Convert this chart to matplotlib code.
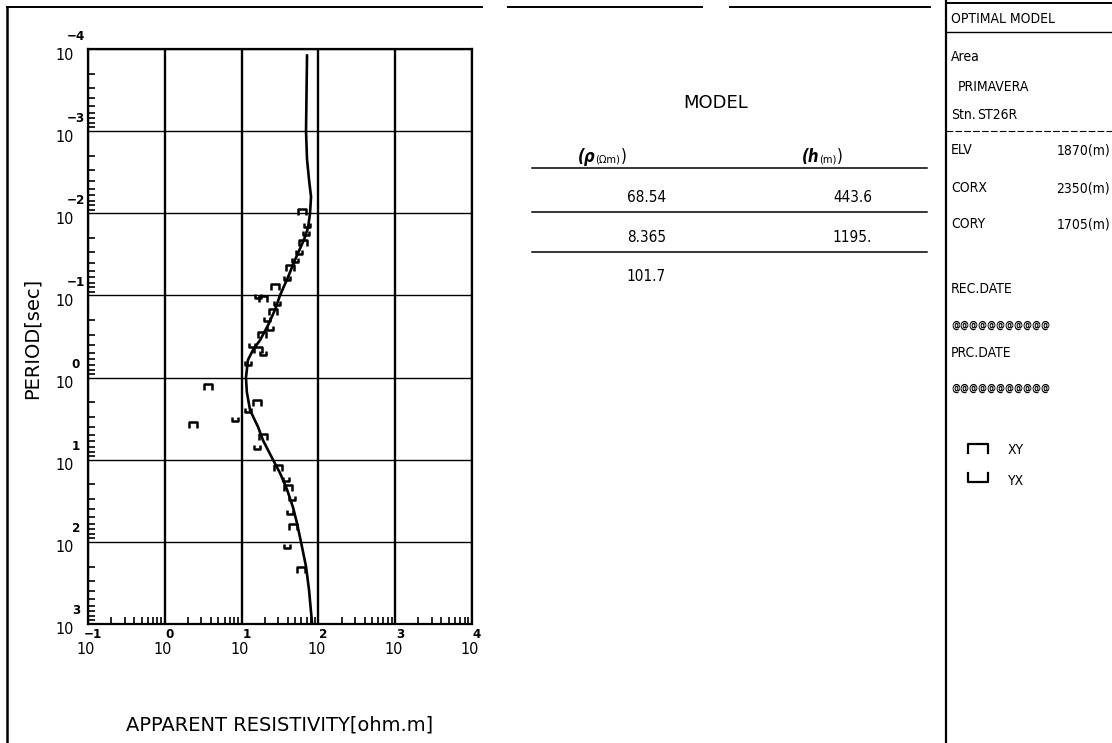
import numpy as np
import matplotlib
matplotlib.use("Agg")
import matplotlib.pyplot as plt
from matplotlib.lines import Line2D
from matplotlib.path import Path
from matplotlib.ticker import LogLocator, NullFormatter, FixedLocator
from matplotlib.offsetbox import TextArea, HPacker, AnnotationBbox

# ---------------- data ----------------
model_period = [1.2e-4, 1.0e-3, 2.2e-3, 3.9e-3, 6.3e-3, 1.0e-2, 0.015, 0.021, 0.037, 0.060,
                0.10, 0.15, 0.23, 0.35, 0.46, 0.61, 1.0, 1.5, 2.5, 4.0,
                5.8, 10.0, 14.5, 23.0, 38.0, 59.0, 100.0, 200.0, 385.0, 970.0]
model_rho = [71.1, 69.0, 71.1, 75.5, 80.2, 77.8, 73.3, 64.9, 49.5, 40.2,
             31.6, 27.2, 22.1, 17.4, 14.1, 12.1, 11.4, 11.7, 12.9, 16.4,
             19.0, 25.6, 31.6, 39.0, 46.7, 52.6, 59.3, 69.0, 75.5, 82.6]

xy_period = [0.0096, 0.023, 0.046, 0.079, 0.111, 0.159, 0.303, 0.462, 1.30, 2.04, 3.79, 5.3, 12.6, 22.1, 65.9, 220.0]
xy_rho = [61.0, 63.0, 42.7, 27.2, 19.0, 25.6, 18.5, 16.4, 3.66, 15.9, 2.33, 19.0, 29.8, 40.2, 46.7, 59.3]

yx_period = [0.0139, 0.0174, 0.0296, 0.037, 0.0614, 0.1016, 0.124, 0.194, 0.249, 0.402, 0.502, 0.665, 2.48, 3.19, 7.0, 17.2, 29.3, 43.4, 112.0]
yx_rho = [71.0, 69.0, 56.0, 49.5, 39.0, 16.4, 28.9, 21.4, 23.5, 13.6, 19.0, 12.1, 12.1, 8.2, 15.9, 37.8, 45.3, 42.7, 39.0]

x_exponents = ["\u22121", "0", "1", "2", "3", "4"]
y_exponents = ["\u22124", "\u22123", "\u22122", "\u22121", "0", "1", "2", "3"]

layer_rho = ["68.54", "8.365", "101.7"]
layer_h = ["443.6", "1195."]

info_rows = [("ELV", "1870(m)"), ("CORX", "2350(m)"), ("CORY", "1705(m)")]

# ---------------- figure ----------------
W, H = 1112, 743
fig = plt.figure(figsize=(W / 100, H / 100), dpi=100)
plt.rcParams['font.family'] = ['DejaVu Sans']


def fx(x):
    return x / W


def fy(y):
    return 1 - y / H


ax = fig.add_axes([fx(88), fy(624), (472 - 88) / W, (624 - 49) / H])
ax.set_xscale('log')
ax.set_yscale('log')
ax.set_xlim(0.1, 1e4)
ax.set_ylim(1e3, 1e-4)

xt = [10.0 ** k for k in range(-1, 5)]
yt = [10.0 ** k for k in range(-4, 4)]
ax.xaxis.set_major_locator(FixedLocator(xt))
ax.yaxis.set_major_locator(FixedLocator(yt))
ax.xaxis.set_minor_locator(LogLocator(base=10, subs=np.arange(2, 10), numticks=100))
ax.yaxis.set_minor_locator(LogLocator(base=10, subs=np.arange(2, 10), numticks=100))
ax.xaxis.set_minor_formatter(NullFormatter())
ax.yaxis.set_minor_formatter(NullFormatter())
ax.set_xticklabels([])
ax.set_yticklabels([])
ax.tick_params(which='major', length=0)
ax.tick_params(which='minor', direction='in', length=5, width=1.2, color='black',
               top=False, right=False)

for v in xt:
    ax.axvline(v, color='black', lw=1.7, zorder=1)
for v in yt:
    ax.axhline(v, color='black', lw=1.0, zorder=1)
for s in ax.spines.values():
    s.set_linewidth(1.6)

ax.plot(model_rho, model_period, color='black', lw=1.9, zorder=3)

cap_xy = Path([(-1, -0.7), (-1, 0.7), (1, 0.7), (1, -0.7)],
              [Path.MOVETO, Path.LINETO, Path.LINETO, Path.LINETO])
cap_yx = Path([(-1, 0.7), (-1, -0.7), (1, -0.7), (1, 0.7)],
              [Path.MOVETO, Path.LINETO, Path.LINETO, Path.LINETO])
ax.plot(xy_rho, xy_period, ls='none', marker=cap_xy, ms=5.5, mew=1.8,
        mfc='none', mec='black', zorder=4)
ax.plot(yx_rho, yx_period, ls='none', marker=cap_yx, ms=5, mew=1.8,
        mfc='none', mec='black', zorder=4)

tfont = dict(family='DejaVu Sans', fontstretch='condensed', color='black')
for v, e in zip(xt, x_exponents):
    ax.annotate("10", xy=(v, 0), xycoords=('data', 'axes fraction'),
                xytext=(-2, -26), textcoords='offset pixels',
                ha='center', va='center', fontsize=11.5, **tfont)
    ax.annotate(e, xy=(v, 0), xycoords=('data', 'axes fraction'),
                xytext=(5, -10), textcoords='offset pixels',
                ha='center', va='center', fontsize=9.5, fontweight='bold', **tfont)
for v, e in zip(yt, y_exponents):
    ax.annotate("10", xy=(0, v), xycoords=('axes fraction', 'data'),
                xytext=(-23, -6), textcoords='offset pixels',
                ha='center', va='center', fontsize=11.5, **tfont)
    ax.annotate(e, xy=(0, v), xycoords=('axes fraction', 'data'),
                xytext=(-12, 13), textcoords='offset pixels',
                ha='center', va='center', fontsize=9.5, fontweight='bold', **tfont)

fig.text(fx(32), fy(338), "PERIOD[sec]", rotation=90, ha='center', va='center',
         fontsize=14, color='black')
fig.text(fx(280), fy(725), "APPARENT RESISTIVITY[ohm.m]", ha='center', va='center',
         fontsize=14, color='black')

# ---------------- page frame ----------------
def fline(x0, y0, x1, y1, lw=1.4, ls='-'):
    fig.add_artist(Line2D([fx(x0), fx(x1)], [fy(y0), fy(y1)], color='black', lw=lw, ls=ls,
                          transform=fig.transFigure))


fline(7, 7, 7, 743, lw=1.8)
fline(7, 7, 482, 7)
fline(508, 7, 702, 7)
fline(730, 7, 930, 7)
fline(946, 3, 1112, 3)
fline(946, 0, 946, 743, lw=1.6)
fline(946, 32, 1112, 32, lw=1.0)
fline(946, 131, 1112, 131, lw=0.8, ls=(0, (6, 2)))

# ---------------- model table ----------------
fig.text(fx(716), fy(103), "MODEL", ha='center', va='center', fontsize=13, color='black')


def header(x, y, a, b, c):
    parts = [TextArea(a, textprops=dict(fontsize=12, fontweight='bold', fontstyle='italic',
                                        fontstretch='condensed')),
             TextArea(b, textprops=dict(fontsize=8, fontstretch='condensed')),
             TextArea(c, textprops=dict(fontsize=12, fontstretch='condensed'))]
    pack = HPacker(children=parts, align='baseline', pad=0, sep=0)
    fig.add_artist(AnnotationBbox(pack, (fx(x), fy(y)), xycoords='figure fraction',
                                  frameon=False, box_alignment=(0.5, 0.5), pad=0))


header(602, 157, "(\u03c1", "(\u03a9m)", ")")
header(822, 157, "(h", "(m)", ")")

for yy in (168, 212, 252):
    fline(532, yy, 927, yy, lw=1.1)

row_y = [197, 237, 277]
for r, yy in zip(layer_rho, row_y):
    fig.text(fx(666), fy(yy), r, ha='right', va='center', fontsize=11,
             fontstretch='condensed', color='black')
for h, yy in zip(layer_h, row_y):
    fig.text(fx(872), fy(yy), h, ha='right', va='center', fontsize=11,
             fontstretch='condensed', color='black')

# ---------------- info panel ----------------
pfont = dict(fontsize=10, fontstretch='condensed', color='black', va='center')
fig.text(fx(951), fy(19), "OPTIMAL MODEL", ha='left', **pfont)
fig.text(fx(951), fy(57), "Area", ha='left', **pfont)
fig.text(fx(958), fy(87), "PRIMAVERA", ha='left', **pfont)
fig.text(fx(951), fy(115), "Stn.", ha='left', **pfont)
fig.text(fx(977), fy(115), "ST26R", ha='left', **pfont)
for (lab, val), yy in zip(info_rows, (150, 188, 224)):
    fig.text(fx(951), fy(yy), lab, ha='left', **pfont)
    fig.text(fx(1110), fy(yy), val, ha='right', **pfont)
fig.text(fx(951), fy(289), "REC.DATE", ha='left', **pfont)
fig.text(fx(951), fy(325), "@" * 11, ha='left', fontweight='bold', fontsize=7.2,
         fontstretch='condensed', color='black', va='center')
fig.text(fx(951), fy(353), "PRC.DATE", ha='left', **pfont)
fig.text(fx(951), fy(388), "@" * 11, ha='left', fontweight='bold', fontsize=7.2,
         fontstretch='condensed', color='black', va='center')

fig.add_artist(Line2D([fx(968), fx(968), fx(988), fx(988)],
                      [fy(453), fy(444), fy(444), fy(453)],
                      color='black', lw=1.6, transform=fig.transFigure))
fig.add_artist(Line2D([fx(968), fx(968), fx(988), fx(988)],
                      [fy(473), fy(482), fy(482), fy(473)],
                      color='black', lw=1.6, transform=fig.transFigure))
fig.text(fx(1008), fy(450), "XY", ha='left', **pfont)
fig.text(fx(1008), fy(481), "YX", ha='left', **pfont)

fig.savefig("out.png", dpi=100, facecolor='white')
